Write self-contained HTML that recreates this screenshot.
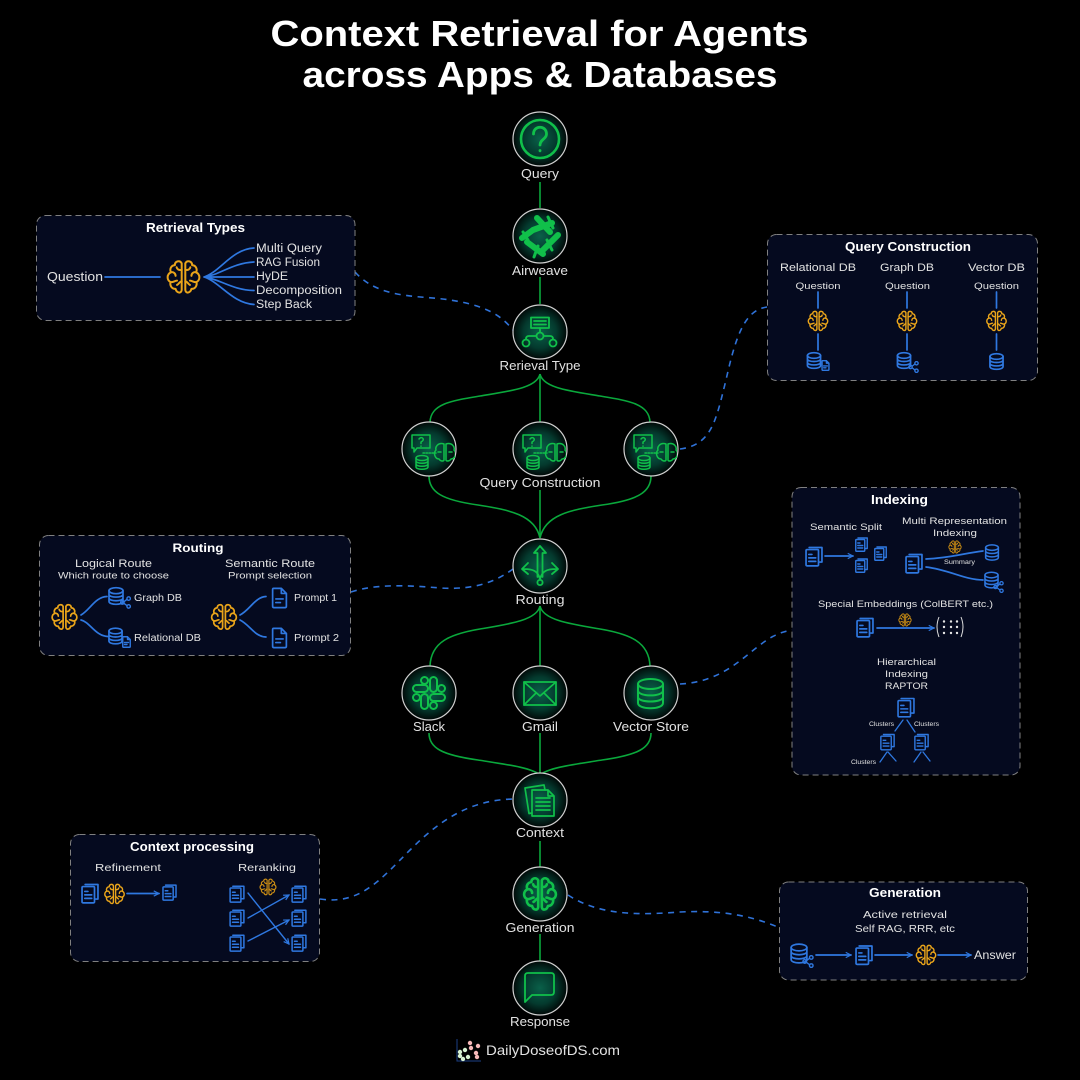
<!DOCTYPE html>
<html><head><meta charset="utf-8"><title>Context Retrieval for Agents</title>
<style>
html,body{margin:0;padding:0;background:#000;width:1080px;height:1080px;overflow:hidden}
svg{display:block}
text{font-family:"Liberation Sans",sans-serif;fill:#e2e2e2;text-anchor:middle}
.b{font-weight:700;fill:#fff}
.g,.g *{fill:none;stroke:#10c04a;stroke-linecap:round;stroke-linejoin:round}
.dash{fill:none;stroke:#2f72d8;stroke-width:1.600;stroke-dasharray:6 5.500}
.bl{fill:none;stroke:#2f78e0;stroke-width:1.700;stroke-linecap:round;stroke-linejoin:round}
.box{fill:#050a1f;stroke:#808080;stroke-width:1;stroke-dasharray:6 4}
.node{fill:url(#rg);stroke:#d0d0d0;stroke-width:1.200}
.conn{fill:none;stroke:#0aa83c;stroke-width:1.600}
symbol *{vector-effect:non-scaling-stroke}
</style></head><body>
<svg width="1080" height="1080" viewBox="0 0 1080 1080" xmlns="http://www.w3.org/2000/svg">
<defs>
<radialGradient id="rg"><stop offset="0" stop-color="#0a6049"/><stop offset=".6" stop-color="#043a2e"/><stop offset="1" stop-color="#010807"/></radialGradient>
<marker id="ah" viewBox="0 0 8 8" refX="7" refY="4" markerWidth="7" markerHeight="7" markerUnits="userSpaceOnUse" orient="auto"><path d="M1,1 L7,4 L1,7" fill="none" stroke="#2f78e0" stroke-width="1.400"/></marker>
<symbol id="brain" viewBox="0 0 100 100"><g fill="none" stroke="currentColor" stroke-linecap="round" stroke-linejoin="round">
<path d="M45,12 C40,2 26,6 26,17 C15,18 11,28 15,37 C3,43 3,58 14,64 C11,76 20,84 28,83 C31,95 44,97 45,86 Z"/>
<path d="M55,12 C60,2 74,6 74,17 C85,18 89,28 85,37 C97,43 97,58 86,64 C89,76 80,84 72,83 C69,95 56,97 55,86 Z"/>
<path d="M15,37 C22,35 28,40 28,47 M14,64 C20,66 26,60 32,60 M45,30 C37,32 32,28 31,23 M45,62 C39,62 37,70 32,72"/>
<path d="M85,37 C78,35 72,40 72,47 M86,64 C80,66 74,60 68,60 M55,30 C63,32 68,28 69,23 M55,62 C61,62 63,70 68,72"/>
</g></symbol>
<symbol id="docs" viewBox="0 0 26 30"><g fill="none" stroke="currentColor" stroke-linecap="round" stroke-linejoin="round">
<rect x="1.500" y="5" width="18" height="23.500" rx="1.500"/><path d="M6,2 H24.500 V23 H21"/>
<path d="M5.500,12 H10 M5.500,17 H15.500 M5.500,22 H15.500"/></g></symbol>
<symbol id="db" viewBox="0 0 24 28"><g fill="none" stroke="currentColor" stroke-linecap="round">
<ellipse cx="12" cy="6" rx="10.500" ry="4.500"/><path d="M1.500,6 V22 C1.500,28 22.500,28 22.500,22 V6 M1.500,11.500 C1.500,17 22.500,17 22.500,11.500 M1.500,17 C1.500,22.500 22.500,22.500 22.500,17"/></g></symbol>
<symbol id="net" viewBox="0 0 14 16"><g fill="none" stroke="currentColor"><circle cx="3" cy="8" r="2.200"/><circle cx="11" cy="3" r="2.200"/><circle cx="11" cy="13" r="2.200"/><path d="M5,7 L9,4 M5,9 L9,12"/></g></symbol>
<symbol id="doc" viewBox="0 0 18 24"><g fill="none" stroke="currentColor" stroke-linejoin="round" stroke-linecap="round">
<path d="M2.500,1.500 H11 L16.500,7 V21 Q16.500,22.500 15,22.500 H3 Q1.500,22.500 1.500,21 V3 Q1.500,1.500 2.500,1.500 Z M11,1.500 V7 H16.500"/><path d="M5,13 H13 M5,17 H10"/></g></symbol>
<symbol id="qc" viewBox="0 0 44 36"><g fill="none" stroke="#10c04a" stroke-linecap="round" stroke-linejoin="round">
<path d="M1,1 H19 V14 H6 L3,18 V14 H1 Z"/><path d="M8,5 Q10,2.500 12,4.500 Q13,6.500 10,8 V9.500 M10,12 V12.200"/>
<path d="M12,19 H25" stroke-dasharray="1.500 1.500"/>
<ellipse cx="11" cy="24" rx="6" ry="2.500"/><path d="M5,24 V33 C5,36 17,36 17,33 V24 M5,27 C5,30 17,30 17,27 M5,30 C5,33 17,33 17,30"/>
<path d="M33,10 C27,8 24,13 25,16 C22,19 24,25 28,25 C30,28 33,27 33,26 Z M35,10 C41,8 44,13 43,16 C46,19 44,25 40,25 C38,28 35,27 35,26 Z M27,18 H30 M38,18 H41"/></g></symbol>
</defs>
<rect width="1080" height="1080" fill="#000"/>

<text class="b" x="539.500" y="46" font-size="36" textLength="538" lengthAdjust="spacingAndGlyphs">Context Retrieval for Agents</text>
<text class="b" x="540" y="87" font-size="36" textLength="475" lengthAdjust="spacingAndGlyphs">across Apps &amp; Databases</text>

<!-- main connectors -->
<g class="conn">
<path d="M540,182V208M540,277V304M540,374V422M540,490V538M540,606V666M540,733V774M540,841V867M540,934V961"/>
<path d="M540,374C537,388 510,391 480,396C450,401 431,404 430,422"/>
<path d="M540,374C543,388 570,391 600,396C630,401 649,404 650,422"/>
<path d="M429,476C429,492 442,500 478,505C510,510 535,515 540,538"/>
<path d="M651,476C651,492 638,500 602,505C570,510 545,515 540,538"/>
<path d="M540,606C537,620 510,624 480,629C450,634 431,642 430,666"/>
<path d="M540,606C543,620 570,624 600,629C630,634 649,642 650,666"/>
<path d="M429,733C429,748 442,755 478,760C510,765 532,768 540,775"/>
<path d="M651,733C651,748 638,755 602,760C570,765 548,768 540,775"/>
</g>

<!-- dashed connectors -->
<path class="dash" d="M355,272C380,300 420,295 450,300C490,306 503,318 513,330"/>
<path class="dash" d="M680,449C712,445 716,420 726,380C736,335 745,310 767,307"/>
<path class="dash" d="M351,592C375,584 405,585 440,588C475,590 495,582 513,569"/>
<path class="dash" d="M680,684C720,682 740,660 760,645C770,637 780,632 792,630"/>
<path class="dash" d="M320,899C360,905 380,880 410,850C440,820 470,800 513,799"/>
<path class="dash" d="M568,895C600,916 640,915 680,912C720,910 750,915 780,928"/>

<!-- nodes -->
<circle class="node" cx="540" cy="139" r="27"/><circle class="node" cx="540" cy="236" r="27"/>
<circle class="node" cx="540" cy="332" r="27"/><circle class="node" cx="429" cy="449" r="27"/>
<circle class="node" cx="540" cy="449" r="27"/><circle class="node" cx="651" cy="449" r="27"/>
<circle class="node" cx="540" cy="566" r="27"/><circle class="node" cx="429" cy="693" r="27"/>
<circle class="node" cx="540" cy="693" r="27"/><circle class="node" cx="651" cy="693" r="27"/>
<circle class="node" cx="540" cy="800" r="27"/><circle class="node" cx="540" cy="894" r="27"/>
<circle class="node" cx="540" cy="988" r="27"/>

<!-- node icons -->
<g class="g" stroke-width="2">
<circle cx="540" cy="139" r="19" stroke-width="2.600"/>
<path d="M533.500,134C533.500,125 546.500,125 546.500,134C546.500,139 540,139.500 540,145M540,150.500V150.800" stroke-width="2.800"/>
<path d="M522,238L533,230L552,223M537,218L550,232M558,235L543,250M527,242L543,254" stroke-width="6"/>
<path d="M523,232L528,240M548,217L553,228M552,250L547,240M534,257L538,246" stroke-width="3"/>
<g stroke-width="1.800"><rect x="531" y="317.500" width="18" height="10.500"/><path d="M534,321H546M534,324.500H546M540,328V332M529,336H536M544,336H550Q553,336 553,339M529,336Q526,336 526,339"/>
<circle cx="540" cy="336" r="3.500"/><circle cx="526" cy="343" r="3.500"/><circle cx="553" cy="343" r="3.500"/></g>
<g stroke-width="1.800"><path d="M537.500,577V553H534L540,546L546,553H542.500V577M540,579C538,571 533,569 524,569M528,563L522,569L528,574M540,579C542,571 547,569 556,569M552,563L558,569L552,574"/><circle cx="540" cy="582.500" r="2.600"/></g>
<g stroke-width="2" transform="translate(429,693)">
<rect x="-16" y="-8" width="15" height="7" rx="3.500"/><rect x="1" y="-16" width="7" height="15" rx="3.500"/><rect x="1" y="1" width="15" height="7" rx="3.500"/><rect x="-8" y="1" width="7" height="15" rx="3.500"/>
<circle cx="-4.500" cy="-12.500" r="3.500"/><circle cx="12.500" cy="-4.500" r="3.500"/><circle cx="4.500" cy="12.500" r="3.500"/><circle cx="-12.500" cy="4.500" r="3.500"/></g>
<g stroke-width="1.700"><rect x="524" y="682" width="32" height="23"/><path d="M524,682L540,696L556,682M524,705L536,693M556,705L544,693"/></g>
<g stroke-width="2"><ellipse cx="650.500" cy="684" rx="12.500" ry="5"/><path d="M638,684V703C638,710 663,710 663,703V684M638,690.500C638,697 663,697 663,690.500M638,697C638,703 663,703 663,697"/></g>
<g stroke-width="1.700"><path d="M532,813L529,813.500L525,788L544,785L545,790"/><path d="M532,790H548L554,796V816H532ZM548,790V796H554M536,798H550M536,802H550M536,806H550M536,810H550"/></g>
<path d="M525,1002V976Q525,973 528,973H551Q554,973 554,976V992Q554,995 551,995H532Z" stroke-width="1.800"/>
</g>
<use href="#brain" x="522" y="876" width="36" height="36" color="#10c04a" stroke-width="2.600"/>
<use href="#qc" x="411" y="434" width="44" height="36" stroke-width="1.500"/>
<use href="#qc" x="522" y="434" width="44" height="36" stroke-width="1.500"/>
<use href="#qc" x="633" y="434" width="44" height="36" stroke-width="1.500"/>

<!-- node labels -->
<g font-size="13">
<text x="540" y="178" textLength="38" lengthAdjust="spacingAndGlyphs">Query</text>
<text x="540" y="275" textLength="56" lengthAdjust="spacingAndGlyphs">Airweave</text>
<text x="540" y="370" textLength="81" lengthAdjust="spacingAndGlyphs">Rerieval Type</text>
<text x="540" y="487" textLength="121" lengthAdjust="spacingAndGlyphs">Query Construction</text>
<text x="540" y="604" textLength="49" lengthAdjust="spacingAndGlyphs">Routing</text>
<text x="429" y="731" textLength="32" lengthAdjust="spacingAndGlyphs">Slack</text>
<text x="540" y="731" textLength="36" lengthAdjust="spacingAndGlyphs">Gmail</text>
<text x="651" y="731" textLength="76" lengthAdjust="spacingAndGlyphs">Vector Store</text>
<text x="540" y="837" textLength="48" lengthAdjust="spacingAndGlyphs">Context</text>
<text x="540" y="932" textLength="69" lengthAdjust="spacingAndGlyphs">Generation</text>
<text x="540" y="1026" textLength="60" lengthAdjust="spacingAndGlyphs">Response</text>
</g>

<!-- logo -->
<path d="M457,1039V1061H481" fill="none" stroke="#1b3f86" stroke-width="1"/>
<g fill="#d6f0d0"><circle cx="460" cy="1052" r="2.200"/><circle cx="465" cy="1050" r="2.200"/><circle cx="463" cy="1059" r="2.200"/><circle cx="468" cy="1057" r="2.200"/><circle cx="460" cy="1056" r="2.200"/></g>
<g fill="#f7b8b8"><circle cx="470" cy="1043" r="2.200"/><circle cx="478" cy="1046" r="2.200"/><circle cx="471" cy="1048" r="2.200"/><circle cx="476" cy="1053" r="2.200"/><circle cx="477" cy="1057" r="2.200"/></g>
<text x="553" y="1055" font-size="14" textLength="134" lengthAdjust="spacingAndGlyphs" fill="#f2f2f2">DailyDoseofDS.com</text>

<!-- Retrieval Types -->
<rect class="box" x="36.500" y="215.500" width="318.500" height="105" rx="9"/>
<text class="b" x="195.500" y="232" font-size="12.500" textLength="99" lengthAdjust="spacingAndGlyphs">Retrieval Types</text>
<text x="75" y="281" font-size="13" textLength="56" lengthAdjust="spacingAndGlyphs">Question</text>
<path class="bl" d="M105,277H160M204,277C220,272 232,249 254,248M204,277C220,275 232,263 254,262M204,277H254M204,277C220,279 232,290 254,290.500M204,277C220,282 232,303 254,304.500"/>
<use href="#brain" x="165.500" y="259" width="36" height="36" color="#eaa51a" stroke-width="2"/>
<g font-size="11.500">
<text x="289" y="252" textLength="66" lengthAdjust="spacingAndGlyphs">Multi Query</text>
<text x="288" y="266" textLength="64" lengthAdjust="spacingAndGlyphs">RAG Fusion</text>
<text x="272" y="280" textLength="32" lengthAdjust="spacingAndGlyphs">HyDE</text>
<text x="299" y="294" textLength="86" lengthAdjust="spacingAndGlyphs">Decomposition</text>
<text x="284" y="308" textLength="56" lengthAdjust="spacingAndGlyphs">Step Back</text>
</g>

<!-- Query Construction -->
<rect class="box" x="767.500" y="234.500" width="270" height="146" rx="9"/>
<text class="b" x="908" y="251" font-size="12.500" textLength="126" lengthAdjust="spacingAndGlyphs">Query Construction</text>
<g font-size="11">
<text x="818" y="271" textLength="76" lengthAdjust="spacingAndGlyphs">Relational DB</text>
<text x="907" y="271" textLength="54" lengthAdjust="spacingAndGlyphs">Graph DB</text>
<text x="996.500" y="271" textLength="57" lengthAdjust="spacingAndGlyphs">Vector DB</text>
</g>
<g font-size="9.500">
<text x="818" y="289" textLength="45" lengthAdjust="spacingAndGlyphs">Question</text>
<text x="907.500" y="289" textLength="45" lengthAdjust="spacingAndGlyphs">Question</text>
<text x="996.500" y="289" textLength="45" lengthAdjust="spacingAndGlyphs">Question</text>
</g>
<path class="bl" d="M818,292V308M818,334V350M907,292V308M907,334V350M996.500,292V308M996.500,334V350"/>
<use href="#brain" x="807" y="310" width="22" height="22" color="#eaa51a" stroke-width="1.400"/>
<use href="#brain" x="896" y="310" width="22" height="22" color="#eaa51a" stroke-width="1.400"/>
<use href="#brain" x="985.500" y="310" width="22" height="22" color="#eaa51a" stroke-width="1.400"/>
<use href="#db" x="806.500" y="351" width="15" height="19" color="#2f78e0" stroke-width="1.700"/>
<use href="#doc" x="821" y="360" width="9" height="11" color="#2f78e0" stroke-width="1.400"/>
<use href="#db" x="896.500" y="351" width="15" height="19" color="#2f78e0" stroke-width="1.700"/>
<use href="#net" x="908" y="361" width="11" height="12" color="#2f78e0" stroke-width="1.400"/>
<use href="#db" x="989" y="352" width="15" height="19" color="#2f78e0" stroke-width="1.700"/>

<!-- Routing -->
<rect class="box" x="39.500" y="535.500" width="311" height="120" rx="9"/>
<text class="b" x="198" y="552" font-size="12" textLength="51" lengthAdjust="spacingAndGlyphs">Routing</text>
<text x="113.500" y="567" font-size="11" textLength="77" lengthAdjust="spacingAndGlyphs">Logical Route</text>
<text x="113.500" y="578.500" font-size="9.500" textLength="111" lengthAdjust="spacingAndGlyphs">Which route to choose</text>
<text x="270" y="567" font-size="11" textLength="90" lengthAdjust="spacingAndGlyphs">Semantic Route</text>
<text x="270" y="578.500" font-size="9.500" textLength="84" lengthAdjust="spacingAndGlyphs">Prompt selection</text>
<use href="#brain" x="50.500" y="603" width="28" height="28" color="#eaa51a" stroke-width="1.700"/>
<use href="#brain" x="210" y="603" width="28" height="28" color="#eaa51a" stroke-width="1.700"/>
<path class="bl" d="M81,615C90,610 95,597 107,596.500M81,620C90,622 95,636 108,636.500M240,615C250,610 255,597 266,596.500M240,620C250,625 255,637 266,637"/>
<use href="#db" x="108" y="586" width="16" height="20" color="#2f78e0" stroke-width="1.700"/>
<use href="#net" x="120" y="596" width="11" height="13" color="#2f78e0" stroke-width="1.400"/>
<use href="#db" x="108" y="627" width="15" height="18" color="#2f78e0" stroke-width="1.700"/>
<use href="#doc" x="122" y="636" width="9" height="12" color="#2f78e0" stroke-width="1.400"/>
<use href="#doc" x="271" y="587" width="17" height="22" color="#2f78e0" stroke-width="1.700"/>
<use href="#doc" x="271" y="627" width="17" height="22" color="#2f78e0" stroke-width="1.700"/>
<g font-size="10">
<text x="158" y="601" textLength="48" lengthAdjust="spacingAndGlyphs">Graph DB</text>
<text x="167.500" y="641" textLength="67" lengthAdjust="spacingAndGlyphs">Relational DB</text>
<text x="315.500" y="601" textLength="43" lengthAdjust="spacingAndGlyphs">Prompt 1</text>
<text x="316.500" y="641" textLength="45" lengthAdjust="spacingAndGlyphs">Prompt 2</text>
</g>

<!-- Indexing -->
<rect class="box" x="792" y="487.500" width="228" height="287.500" rx="9"/>
<text class="b" x="899.500" y="504" font-size="12.500" textLength="57" lengthAdjust="spacingAndGlyphs">Indexing</text>
<g font-size="9.500">
<text x="846" y="530" textLength="72" lengthAdjust="spacingAndGlyphs">Semantic Split</text>
<text x="954.500" y="524" textLength="105" lengthAdjust="spacingAndGlyphs">Multi Representation</text>
<text x="955" y="536" textLength="44" lengthAdjust="spacingAndGlyphs">Indexing</text>
<text x="905.500" y="607" textLength="175" lengthAdjust="spacingAndGlyphs">Special Embeddings (ColBERT etc.)</text>
<text x="906.500" y="665" textLength="59" lengthAdjust="spacingAndGlyphs">Hierarchical</text>
<text x="906.500" y="677" textLength="43" lengthAdjust="spacingAndGlyphs">Indexing</text>
<text x="906.500" y="689" textLength="43" lengthAdjust="spacingAndGlyphs">RAPTOR</text>
</g>
<use href="#docs" x="805" y="546" width="18" height="21" color="#2f78e0" stroke-width="1.700"/>
<use href="#docs" x="855" y="537" width="13" height="15" color="#2f78e0" stroke-width="1.400"/>
<use href="#docs" x="855" y="558" width="13" height="15" color="#2f78e0" stroke-width="1.400"/>
<use href="#docs" x="874" y="546" width="13" height="15" color="#2f78e0" stroke-width="1.400"/>
<path class="bl" d="M825,556H853" marker-end="url(#ah)"/>
<use href="#docs" x="905" y="553" width="18" height="21" color="#2f78e0" stroke-width="1.700"/>
<path class="bl" d="M926,559C950,558 965,553 983,551M926,567C950,570 965,580 983,580"/>
<use href="#brain" x="948" y="540" width="14" height="14" color="#c98c14" stroke-width="1"/>
<text x="959.500" y="564" font-size="6.500" textLength="31" lengthAdjust="spacingAndGlyphs">Summary</text>
<use href="#db" x="984" y="544" width="16" height="17" color="#2f78e0" stroke-width="1.500"/>
<use href="#db" x="984" y="571" width="15" height="18" color="#2f78e0" stroke-width="1.500"/>
<use href="#net" x="993" y="581" width="11" height="12" color="#2f78e0" stroke-width="1.300"/>
<use href="#docs" x="856" y="617" width="18" height="21" color="#2f78e0" stroke-width="1.700"/>
<path class="bl" d="M877,628H934" marker-end="url(#ah)"/>
<use href="#brain" x="898" y="613" width="14" height="14" color="#c98c14" stroke-width="1"/>
<path d="M939,617Q935,627 939,637M961,617Q965,627 961,637" fill="none" stroke="#ddd" stroke-width="1"/>
<g fill="#e6e6e6"><circle cx="944" cy="621.500" r="1.200"/><circle cx="951" cy="621.500" r="1.200"/><circle cx="957" cy="621.500" r="1.200"/><circle cx="944" cy="627" r="1.200"/><circle cx="951" cy="627" r="1.200"/><circle cx="957" cy="627" r="1.200"/><circle cx="944" cy="633" r="1.200"/><circle cx="951" cy="633" r="1.200"/><circle cx="957" cy="633" r="1.200"/></g>
<use href="#docs" x="897" y="697" width="18" height="21" color="#2f78e0" stroke-width="1.600"/>
<use href="#docs" x="880" y="733" width="15" height="18" color="#2f78e0" stroke-width="1.400"/>
<use href="#docs" x="914" y="733" width="15" height="18" color="#2f78e0" stroke-width="1.400"/>
<path class="bl" style="stroke-width:1.300" d="M903,720L895,731M907,720L915,732M887,752L880,762M888,752L896,761M921,752L914,762M923,752L930,761"/>
<g font-size="6.200">
<text x="881.500" y="726" textLength="25" lengthAdjust="spacingAndGlyphs">Clusters</text>
<text x="926.500" y="726" textLength="25" lengthAdjust="spacingAndGlyphs">Clusters</text>
<text x="863.500" y="764" textLength="25" lengthAdjust="spacingAndGlyphs">Clusters</text>
</g>

<!-- Context processing -->
<rect class="box" x="70.500" y="834.500" width="249" height="127" rx="9"/>
<text class="b" x="192" y="851" font-size="12.500" textLength="124" lengthAdjust="spacingAndGlyphs">Context processing</text>
<text x="128" y="871" font-size="10.500" textLength="66" lengthAdjust="spacingAndGlyphs">Refinement</text>
<text x="267" y="871" font-size="10.500" textLength="58" lengthAdjust="spacingAndGlyphs">Reranking</text>
<use href="#docs" x="81" y="883" width="18" height="21" color="#2f78e0" stroke-width="1.700"/>
<use href="#brain" x="103.500" y="883" width="22" height="22" color="#eaa51a" stroke-width="1.400"/>
<path class="bl" d="M127,893.500H159" marker-end="url(#ah)"/>
<use href="#docs" x="162" y="884" width="15" height="17" color="#2f78e0" stroke-width="1.500"/>
<use href="#brain" x="259" y="878" width="18" height="18" color="#c98c14" stroke-width="1.200"/>
<use href="#docs" x="229" y="885" width="16" height="18" color="#2f78e0" stroke-width="1.500"/>
<use href="#docs" x="229" y="909" width="16" height="18" color="#2f78e0" stroke-width="1.500"/>
<use href="#docs" x="229" y="934" width="16" height="18" color="#2f78e0" stroke-width="1.500"/>
<use href="#docs" x="291" y="885" width="16" height="18" color="#2f78e0" stroke-width="1.500"/>
<use href="#docs" x="291" y="909" width="16" height="18" color="#2f78e0" stroke-width="1.500"/>
<use href="#docs" x="291" y="934" width="16" height="18" color="#2f78e0" stroke-width="1.500"/>
<path class="bl" style="stroke-width:1.400" d="M248,893L289,944" marker-end="url(#ah)"/>
<path class="bl" style="stroke-width:1.400" d="M248,918L289,895" marker-end="url(#ah)"/>
<path class="bl" style="stroke-width:1.400" d="M248,941L289,920" marker-end="url(#ah)"/>

<!-- Generation -->
<rect class="box" x="779.500" y="882" width="248" height="98" rx="9"/>
<text class="b" x="905" y="897" font-size="12.500" textLength="72" lengthAdjust="spacingAndGlyphs">Generation</text>
<text x="905" y="918" font-size="10.500" textLength="84" lengthAdjust="spacingAndGlyphs">Active retrieval</text>
<text x="905" y="932" font-size="10.500" textLength="100" lengthAdjust="spacingAndGlyphs">Self RAG, RRR, etc</text>
<use href="#db" x="790" y="943" width="18" height="21" color="#2f78e0" stroke-width="1.700"/>
<use href="#net" x="802" y="955" width="12" height="13" color="#2f78e0" stroke-width="1.400"/>
<path class="bl" d="M816,955H851" marker-end="url(#ah)"/>
<use href="#docs" x="855" y="944" width="18" height="22" color="#2f78e0" stroke-width="1.700"/>
<path class="bl" d="M875,955H912" marker-end="url(#ah)"/>
<use href="#brain" x="915" y="944" width="22" height="22" color="#eaa51a" stroke-width="1.400"/>
<path class="bl" d="M938,955H971" marker-end="url(#ah)"/>
<text x="995" y="959" font-size="11.500" textLength="42" lengthAdjust="spacingAndGlyphs">Answer</text>
</svg>
</body></html>
